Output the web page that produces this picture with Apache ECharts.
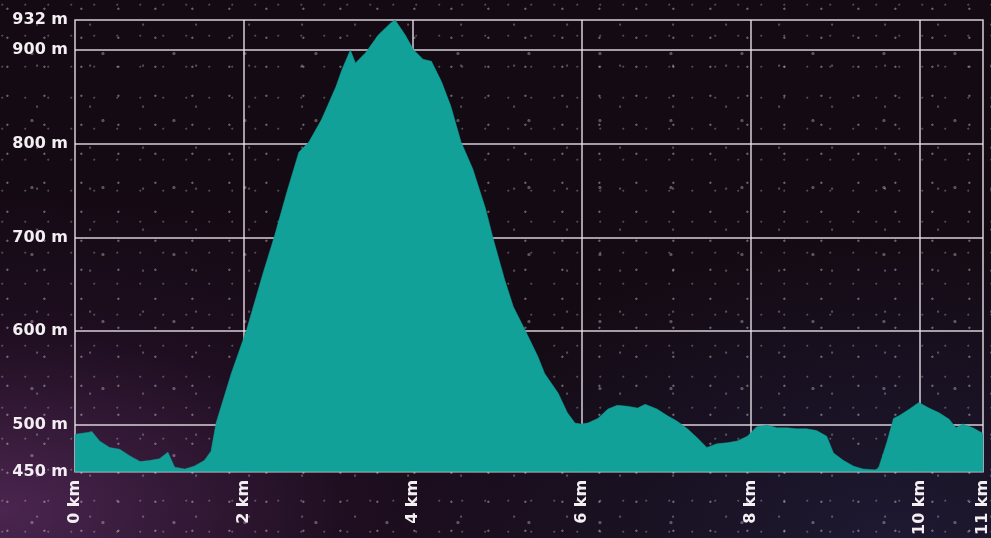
<!DOCTYPE html>
<html>
<head>
<meta charset="utf-8">
<script src="https://cdn.jsdelivr.net/npm/echarts@6/dist/echarts.min.js"></script>
<style>
html,body{margin:0;padding:0;width:991px;height:538px;overflow:hidden;}
body{
  background-color:#140a13;
  background-image:
    radial-gradient(circle at 20% 30%, rgba(255,255,255,0.35) 0 0.8px, transparent 1.5px),
    radial-gradient(circle at 70% 60%, rgba(230,220,255,0.3) 0 0.8px, transparent 1.5px),
    radial-gradient(circle at 45% 80%, rgba(255,240,255,0.3) 0 1.2px, transparent 2px),
    radial-gradient(circle at 10% 15%, rgba(255,255,255,0.25) 0 0.7px, transparent 1.4px),
    radial-gradient(ellipse at 0% 95%, rgba(120,60,130,0.55) 0, rgba(60,25,70,0.25) 25%, transparent 45%),
    radial-gradient(ellipse at 90% 100%, rgba(40,40,80,0.5) 0, transparent 40%);
  background-size: 37px 29px, 53px 41px, 71px 67px, 23px 31px, 100% 100%, 100% 100%;
}
#chart{width:991px;height:538px;}
</style>
</head>
<body>
<div id="chart"></div>
<script>
// distance (km) and elevation (m) along the profile
const distanceKm = [0.00,0.15,0.20,0.29,0.41,0.53,0.65,0.77,0.88,1.00,1.10,1.18,1.30,1.41,1.53,1.61,1.67,1.85,2.03,2.22,2.36,2.51,2.65,2.77,2.92,3.09,3.16,3.26,3.32,3.44,3.59,3.74,3.79,3.91,4.01,4.12,4.22,4.34,4.45,4.57,4.71,4.86,4.95,5.09,5.19,5.33,5.48,5.56,5.72,5.83,5.92,5.99,6.07,6.19,6.31,6.42,6.54,6.66,6.75,6.89,7.01,7.13,7.25,7.37,7.48,7.60,7.72,7.84,7.96,8.07,8.19,8.31,8.43,8.54,8.66,8.78,8.90,8.98,9.10,9.22,9.33,9.49,9.52,9.61,9.69,9.76,9.88,9.99,10.11,10.23,10.35,10.43,10.51,10.63,10.75];
const elevationM = [490,492,493,483,476,474,467,461,462,464,471,455,453,456,462,472,502,555,601,660,701,749,791,802,826,861,879,900,886,897,916,929,932,916,900,890,888,866,840,802,773,731,699,654,626,601,573,555,534,513,502,501,502,507,517,521,520,518,522,517,510,504,496,486,476,480,481,483,488,498,500,497,497,496,496,494,488,470,462,456,453,452,456,481,507,510,517,524,518,513,506,497,501,497,491];

const xTicks = [0,2,4,6,8,10,10.75];
const xTickLabels = ['0 km','2 km','4 km','6 km','8 km','10 km','11 km'];
const xGridLines = [2,4,6,8,10];
const yTicks = [450,500,600,700,800,900,932];
const yTickLabels = ['450 m','500 m','600 m','700 m','800 m','900 m','932 m'];
const yGridLines = [500,600,700,800,900];

const data = distanceKm.map((d,i)=>[d, elevationM[i]]);
const labelFont = {color:'#f2eef2', fontFamily:'DejaVu Sans', fontWeight:'bold', fontSize:16};

const chart = echarts.init(document.getElementById('chart'), null, {renderer:'canvas'});
chart.setOption({
  backgroundColor:'transparent',
  animation:false,
  grid:{left:75, right:1, top:20, bottom:62, show:true, borderColor:'rgba(235,228,235,0.9)', borderWidth:1.5, backgroundColor:'transparent'},
  xAxis:{
    type:'value', min:0, max:10.75,
    axisLine:{show:false}, axisTick:{show:false}, splitLine:{show:false},
    axisLabel:Object.assign({
      customValues:xTicks, rotate:90, margin:8,
      formatter:function(v){ const i = xTicks.indexOf(v); return i>=0 ? xTickLabels[i] : ''; }
    }, labelFont)
  },
  yAxis:{
    type:'value', min:450, max:932,
    axisLine:{show:false}, axisTick:{show:false}, splitLine:{show:false},
    axisLabel:Object.assign({
      customValues:yTicks, margin:7,
      formatter:function(v){ const i = yTicks.indexOf(v); return i>=0 ? yTickLabels[i] : ''; }
    }, labelFont)
  },
  series:[{
    type:'line', z:3, data:data, showSymbol:false, symbol:'none', smooth:false,
    lineStyle:{width:0.5, color:'#12a198'},
    areaStyle:{color:'#12a198', opacity:1, origin:'start'},
    markLine:{
      silent:true, symbol:'none', z:1, animation:false,
      label:{show:false},
      lineStyle:{color:'rgba(235,228,235,0.9)', width:1.5, type:'solid'},
      data: yGridLines.map(v=>({yAxis:v})).concat(xGridLines.map(v=>({xAxis:v})))
    }
  }]
});
</script>
</body>
</html>
